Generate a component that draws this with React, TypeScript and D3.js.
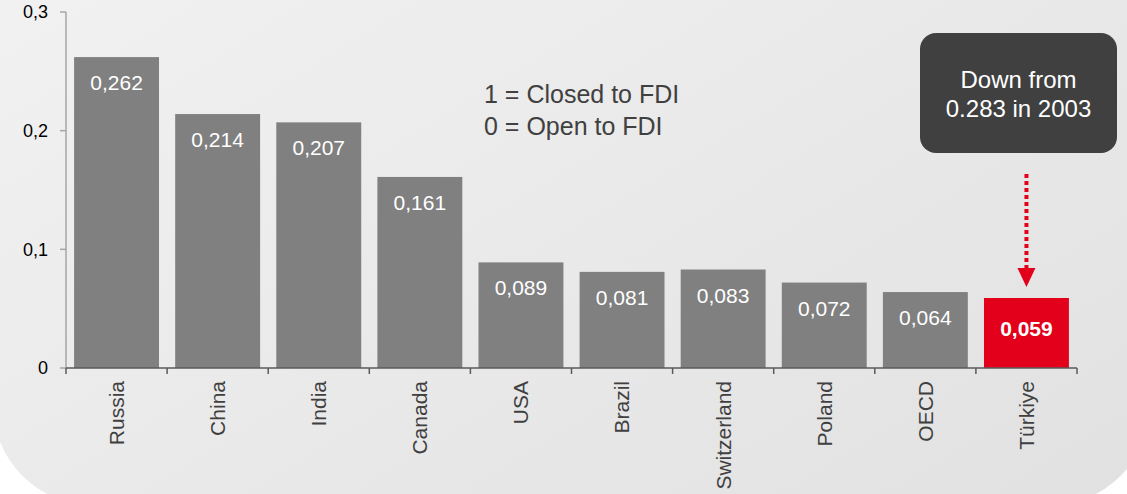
import React from "react";
import * as d3 from "d3";

const countries = ["Russia", "China", "India", "Canada", "USA", "Brazil", "Switzerland", "Poland", "OECD", "Türkiye"];
const values = [0.262, 0.214, 0.207, 0.161, 0.089, 0.081, 0.083, 0.072, 0.064, 0.059];
const yTicks = [0, 0.1, 0.2, 0.3];
const legendLines = ["1 = Closed to FDI", "0 = Open to FDI"];
const noteLines = ["Down from", "0.283 in 2003"];
const highlight = "Türkiye";

const W = 1127;
const H = 494;
const FONT = "'Liberation Sans', Arial, sans-serif";

export default function App() {
  React.useEffect(() => {
    document.body.style.margin = "0";
  }, []);

  const x = d3.scaleBand<string>().domain(countries).range([66, 1077]).paddingInner(0.16).paddingOuter(0.08);
  const y = d3.scaleLinear().domain([0, 0.3]).range([368, 12]);
  const half = (x.step() * x.paddingInner()) / 2;
  const boundaries = countries.map((c) => (x(c) as number) - half).concat([(x(countries[countries.length - 1]) as number) + x.bandwidth() + half]);
  const fmt = (v: number) => d3.format(".3f")(v).replace(".", ",");
  const fmtTick = (v: number) => (v === 0 ? "0" : d3.format(".1f")(v).replace(".", ","));

  const hx = (x(highlight) as number) + x.bandwidth() / 2;

  return (
    <svg width={W} height={H} style={{ display: "block", fontFamily: FONT }}>
      <defs>
        <linearGradient id="bg" x1="0" y1="0" x2="1" y2="1">
          <stop offset="0" stopColor="#f4f4f4" />
          <stop offset="1" stopColor="#e1e1e1" />
        </linearGradient>
      </defs>
      <rect width={W} height={H} fill="#ffffff" />
      <rect x={-7} y={-200} width={1157} height={705} rx={100} ry={100} fill="url(#bg)" />

      {/* y axis */}
      <line x1={66} x2={66} y1={y(0.3)} y2={y(0)} stroke="#a6a6a6" strokeWidth={1.5} />
      {yTicks.map((t) => (
        <g key={t}>
          <line x1={60} x2={66} y1={y(t)} y2={y(t)} stroke="#a6a6a6" strokeWidth={1.5} />
          <text x={48} y={y(t)} dy="0.35em" textAnchor="end" fontSize={18} fill="#000">{fmtTick(t)}</text>
        </g>
      ))}

      {/* bars */}
      {countries.map((c, i) => {
        const isH = c === highlight;
        const top = y(values[i]);
        return (
          <g key={c}>
            <rect x={x(c)} y={top} width={x.bandwidth()} height={y(0) - top} fill={isH ? "#e2001a" : "#808080"} />
            <text
              x={(x(c) as number) + x.bandwidth() / 2}
              y={top + (isH ? 38 : 33)}
              textAnchor="middle"
              fontSize={21}
              fontWeight={isH ? "bold" : "normal"}
              fill="#ffffff"
            >
              {fmt(values[i])}
            </text>
          </g>
        );
      })}

      {/* x axis */}
      <line x1={66} x2={1077} y1={y(0)} y2={y(0)} stroke="#5a5a5a" strokeWidth={1.5} />
      {boundaries.map((b, i) => (
        <line key={i} x1={b} x2={b} y1={y(0)} y2={y(0) + 6} stroke="#5a5a5a" strokeWidth={1.5} />
      ))}
      {countries.map((c) => {
        const cx = (x(c) as number) + x.bandwidth() / 2;
        return (
          <text key={c} transform={`translate(${cx},381) rotate(-90)`} dy="0.35em" textAnchor="end" fontSize={21} fill="#404040">
            {c}
          </text>
        );
      })}

      {/* legend */}
      {legendLines.map((l, i) => (
        <text key={l} x={484} y={103 + i * 32} fontSize={25} fill="#404040">{l}</text>
      ))}

      {/* note box */}
      <rect x={920} y={33} width={197} height={120} rx={16} ry={16} fill="#404040" />
      {noteLines.map((l, i) => (
        <text key={l} x={1018.5} y={88 + i * 29} textAnchor="middle" fontSize={24} fill="#ffffff">{l}</text>
      ))}

      {/* arrow */}
      <line x1={hx} x2={hx} y1={174} y2={268} stroke="#e2001a" strokeWidth={4} strokeDasharray="4 3" />
      <path d={`M${hx - 9},268 L${hx + 9},268 L${hx},287 Z`} fill="#e2001a" />
    </svg>
  );
}
